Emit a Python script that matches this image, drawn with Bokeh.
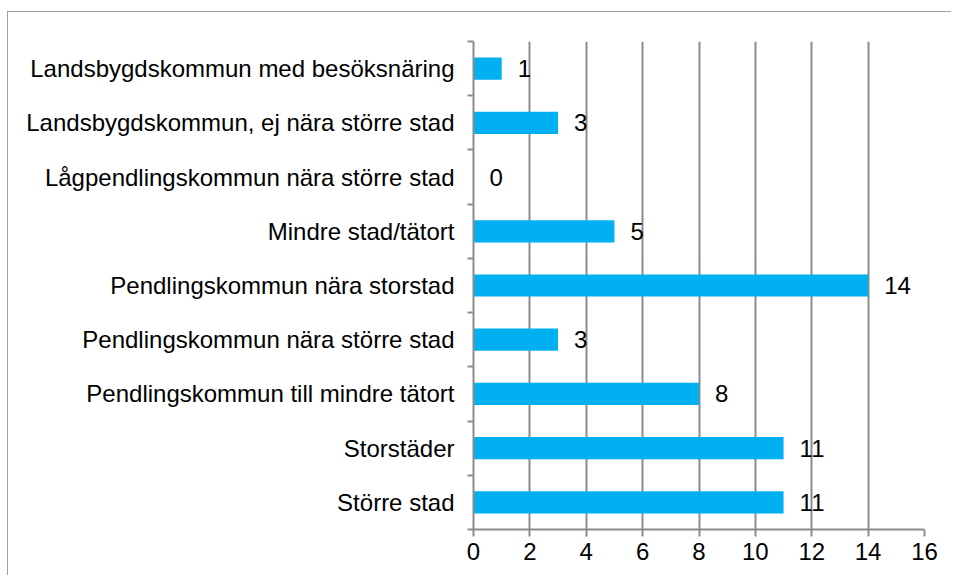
from bokeh.plotting import figure
from bokeh.models import Range1d, FixedTicker, ColumnDataSource, Spacer
from bokeh.layouts import column, row
from bokeh.embed import file_html
from bokeh.resources import INLINE

categories = [
    "Landsbygdskommun med besöksnäring",
    "Landsbygdskommun, ej nära större stad",
    "Lågpendlingskommun nära större stad",
    "Mindre stad/tätort",
    "Pendlingskommun nära storstad",
    "Pendlingskommun nära större stad",
    "Pendlingskommun till mindre tätort",
    "Storstäder",
    "Större stad",
]
values = [1, 3, 0, 5, 14, 3, 8, 11, 11]
x_ticks = [0, 2, 4, 6, 8, 10, 12, 14, 16]

n = len(categories)
ypos = [i + 0.5 for i in range(n)]
src = ColumnDataSource(dict(y=ypos, v=values, lab=[str(v) for v in values]))

FONT = "Liberation Sans"
GRAY = "#8c8c8c"
FS = "24px"

p = figure(width=944, height=564, output_backend="svg", toolbar_location=None,
           x_range=Range1d(0, 16), y_range=Range1d(n, 0),
           min_border_left=465, min_border_right=28, min_border_top=29, min_border_bottom=47)
p.outline_line_color = None
p.styles = {"border-top": "1px solid #a0a0a0", "border-left": "1px solid #a0a0a0"}

p.hbar(y="y", right="v", left=0, height=0.41, source=src, fill_color="#00B0F0", line_color=None)
p.text(x="v", y="y", text="lab", source=src, x_offset=16, text_align="left", text_baseline="middle",
       text_font_size=FS, text_color="#000000", text_font={"value": FONT})

# x axis
xa = p.xaxis[0]
xa.ticker = FixedTicker(ticks=x_ticks)
xa.axis_line_color = GRAY
xa.axis_line_width = 2
xa.major_tick_line_color = GRAY
xa.major_tick_line_width = 2
xa.major_tick_out = 7
xa.major_tick_in = 0
xa.minor_tick_line_color = None
xa.major_label_text_font = FONT
xa.major_label_text_font_size = FS
xa.major_label_text_color = "#000000"
xa.major_label_standoff = 6

# y axis: labels at centres, ticks at category boundaries
ya = p.yaxis[0]
ya.ticker = FixedTicker(ticks=ypos, minor_ticks=list(range(n + 1)))
ya.major_label_overrides = {y: c for y, c in zip(ypos, categories)}
ya.axis_line_color = GRAY
ya.axis_line_width = 2
ya.major_tick_line_color = None
ya.major_tick_out = 0
ya.major_tick_in = 0
ya.minor_tick_line_color = GRAY
ya.minor_tick_line_width = 2
ya.minor_tick_out = 6
ya.minor_tick_in = 0
ya.major_label_text_font = FONT
ya.major_label_text_font_size = FS
ya.major_label_text_color = "#000000"
ya.major_label_standoff = 13

p.xgrid.grid_line_color = GRAY
p.xgrid.grid_line_width = 2
p.xgrid.ticker = FixedTicker(ticks=x_ticks)
p.ygrid.grid_line_color = None

layout = column(Spacer(height=11), row(Spacer(width=7), p, spacing=0), spacing=0)
open("out.html", "w").write(file_html(layout, INLINE))
